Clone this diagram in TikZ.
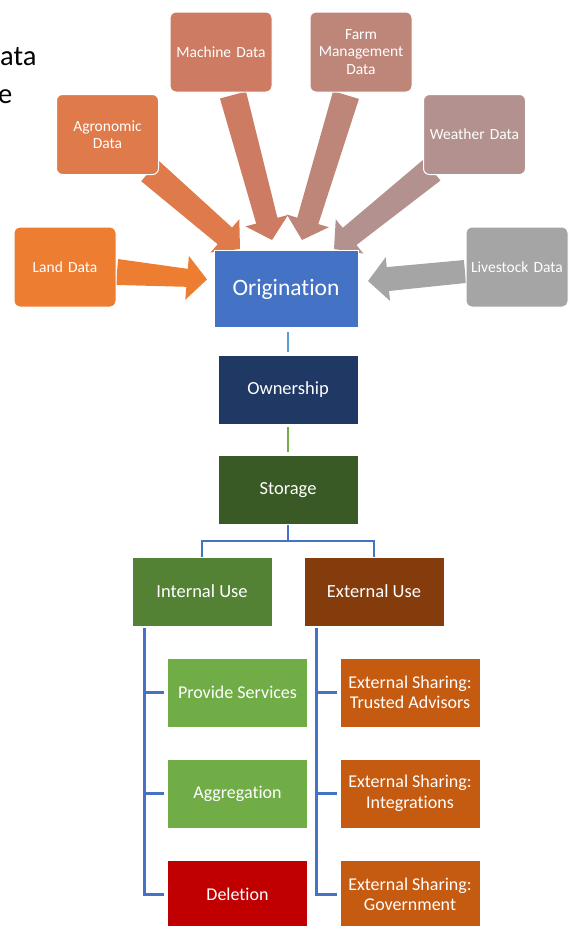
\documentclass[tikz,border=0pt]{standalone}
\usepackage{fontspec}
\setmainfont{Carlito}[Ligatures={NoCommon}]
\usetikzlibrary{calc,backgrounds}
\definecolor{cLand}{HTML}{ED7D31}
\definecolor{cAgro}{HTML}{DF7A4B}
\definecolor{cMach}{HTML}{CD7B63}
\definecolor{cFarm}{HTML}{BE8679}
\definecolor{cWeat}{HTML}{B3918F}
\definecolor{cLive}{HTML}{A5A5A5}
\definecolor{cOrig}{HTML}{4472C4}
\definecolor{cOwn}{HTML}{203864}
\definecolor{cStor}{HTML}{3A5A25}
\definecolor{cInt}{HTML}{548235}
\definecolor{cExt}{HTML}{843C0C}
\definecolor{cGreen}{HTML}{70AD47}
\definecolor{cDel}{HTML}{C00000}
\definecolor{cShare}{HTML}{C55A11}
\definecolor{cLB}{HTML}{5B9BD5}
% block arrow: #1 colour, #2 start, #3 tip, #4 half width at start, #5 half width at head
\newcommand{\blockarrow}[5]{%
  \path coordinate (ab) at ($(#3)!20pt!(#2)$);
  \fill[#1] ($(#2)!#4!90:(#3)$) -- ($(ab)!#5!90:(#3)$) -- ($(ab)!22pt!90:(#3)$)
    -- (#3) -- ($(ab)!22pt!-90:(#3)$) -- ($(ab)!#5!-90:(#3)$)
    -- ($(#2)!#4!-90:(#3)$) -- cycle;
}
\begin{document}
\begin{tikzpicture}[x=1pt,y=-1pt,
  src/.style={fill=#1, rounded corners=6pt, draw=white, line width=1pt,
    minimum width=102pt, minimum height=80pt, text width=98pt, inner sep=0pt,
    align=center, text=white, font=\fontsize{15.5}{17.5}\selectfont},
  mbox/.style={fill=#1, draw=white, line width=0.6pt, minimum width=140pt,
    minimum height=69pt, inner sep=0pt, align=center, text=white,
    font=\fontsize{18.5}{20.5}\selectfont},
  sbox/.style={mbox=#1, font=\fontsize{18}{20.5}\selectfont},
  tree/.style={draw=cOrig, line width=2.5pt},
  big/.style={font=\fontsize{28.5}{34}\selectfont, inner sep=0pt, text=black}]
\useasboundingbox (0,0) rectangle (568,926);

% cut-off title text
\node[big, anchor=base west] (t1) at (0,65) {ata};
\node[big, anchor=base west] (t2) at (-2,103) {e};

% source boxes
\node[src=cMach] (mach) at (221,52) {Machine Data};
\node[src=cFarm] (farm) at (361,52) {Farm\\Management\\Data};
\node[src=cAgro] (agro) at (107.5,134.5) {Agronomic\\Data};
\node[src=cWeat] (weat) at (474.5,134.5) {Weather Data};
\node[src=cLand] (land) at (65,267) {Land Data};
\node[src=cLive] (live) at (517,267) {Livestock Data};

% main flow
\node[mbox=cOrig, minimum width=144pt, minimum height=77pt,
  font=\fontsize{23.5}{26}\selectfont] (orig) at (286,289) {Origination};
\node[mbox=cOwn] (own) at (288,389.5) {Ownership};
\node[mbox=cStor] (stor) at (288,490) {Storage};
\node[mbox=cInt] (intu) at (202,591.5) {Internal Use};
\node[mbox=cExt] (extu) at (374,591.5) {External Use};
\node[sbox=cGreen] (prov) at (237.5,692.5) {Provide Services};
\node[sbox=cGreen] (aggr) at (237.5,793.5) {Aggregation};
\node[sbox=cDel] (del) at (237.5,894.5) {Deletion};
\node[sbox=cShare] (sh1) at (410,692.5) {External Sharing:\\Trusted Advisors};
\node[sbox=cShare] (sh2) at (410,793.5) {External Sharing:\\Integrations};
\node[sbox=cShare] (sh3) at (410,894.5) {External Sharing:\\Government};

% arrow end points
\coordinate (landS) at (117,272);  \coordinate (landT) at (207,279.5);
\coordinate (liveS) at (465,271.5); \coordinate (liveT) at (368,281);
\coordinate (agroS) at (150,171);  \coordinate (agroT) at (240,249);
\coordinate (weatS) at (432,170);  \coordinate (weatT) at (334,249);
\coordinate (machS) at (233,95);   \coordinate (machT) at (272,240);
\coordinate (farmS) at (346,95);   \coordinate (farmT) at (302,240);

\begin{scope}[on background layer]
  \blockarrow{cLand}{landS}{landT}{13pt}{9pt}
  \blockarrow{cLive}{liveS}{liveT}{11.5pt}{12pt}
  \blockarrow{cAgro}{agroS}{agroT}{13.5pt}{11pt}
  \blockarrow{cWeat}{weatS}{weatT}{13.5pt}{11pt}
  \blockarrow{cMach}{machS}{machT}{13.5pt}{11pt}
  \blockarrow{cFarm}{farmS}{farmT}{13.5pt}{11pt}
\end{scope}

% tree connectors
\draw[draw=cLB, line width=2pt, shorten <=4pt, shorten >=3pt]
  (own.north |- orig.south) -- (own.north);
\draw[draw=cGreen, line width=2pt, shorten <=3pt, shorten >=3pt]
  (own.south) -- (stor.north);
\draw[tree] (stor.south) -- ++(0,16) coordinate (j);
\draw[tree] (intu.north) |- (j) -| (extu.north);

\coordinate (il) at ([xshift=13pt,yshift=-2pt]intu.south west);
\coordinate (el) at ([xshift=13pt,yshift=-2pt]extu.south west);
\draw[tree, shorten >=3pt] (il) |- (prov.west);
\draw[tree, shorten >=3pt] (il) |- (aggr.west);
\draw[tree, shorten >=3pt] (il) |- (del.west);
\draw[tree, shorten >=3pt] (el) |- (sh1.west);
\draw[tree, shorten >=3pt] (el) |- (sh2.west);
\draw[tree, shorten >=3pt] (el) |- (sh3.west);
\end{tikzpicture}
\end{document}
